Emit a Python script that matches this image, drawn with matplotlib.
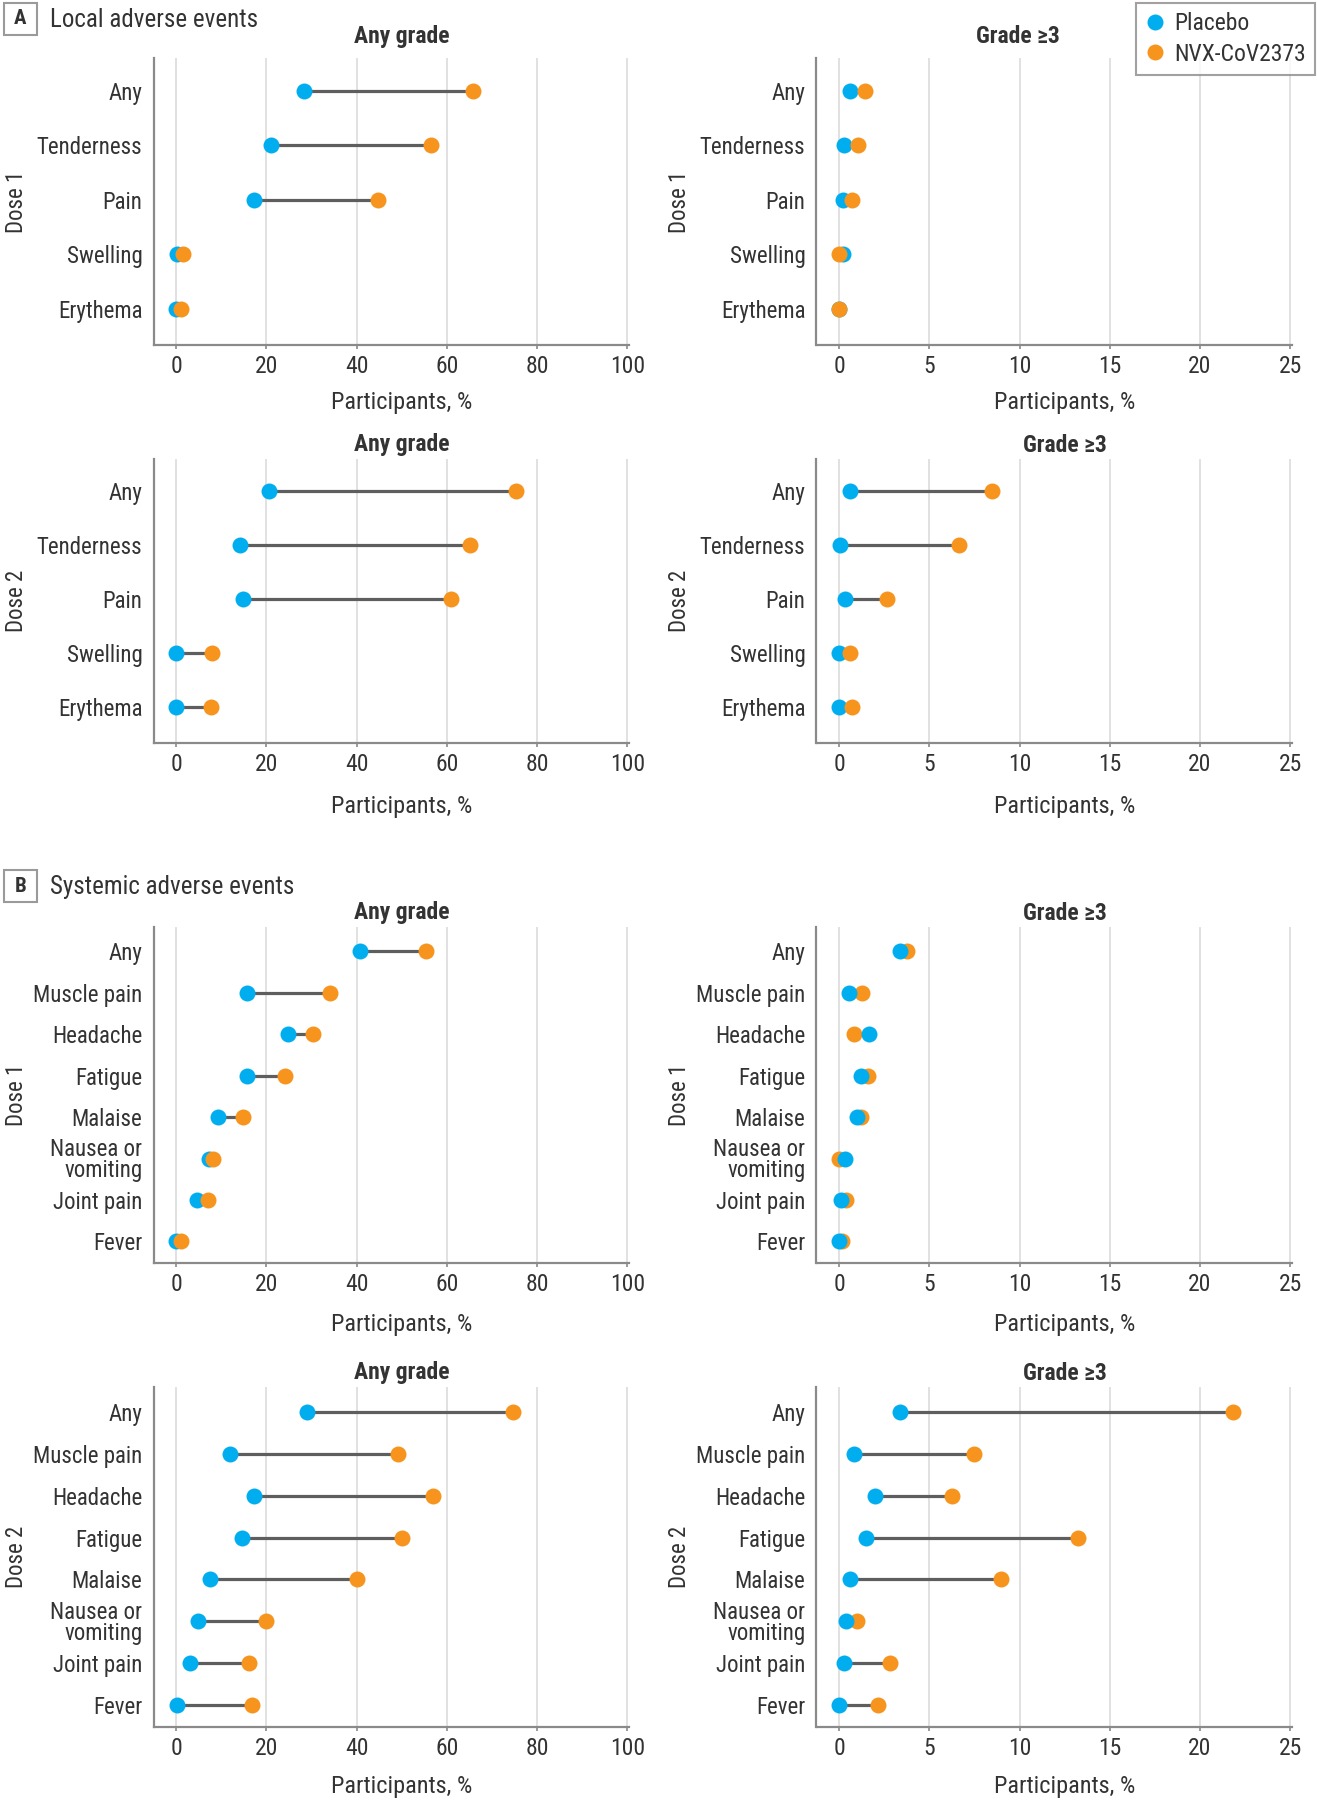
import matplotlib
matplotlib.use('Agg')
import matplotlib.pyplot as plt
from matplotlib.transforms import blended_transform_factory, offset_copy
from matplotlib.patches import Rectangle
from matplotlib.lines import Line2D

# ---- data (percent of participants) ----
local_items = ['Any', 'Tenderness', 'Pain', 'Swelling', 'Erythema']
systemic_items = ['Any', 'Muscle pain', 'Headache', 'Fatigue', 'Malaise',
                  'Nausea or\nvomiting', 'Joint pain', 'Fever']

local_d1_any_placebo = [28.4, 21.1, 17.3, 0.1, 0.0]
local_d1_any_nvx = [65.8, 56.5, 44.8, 1.6, 1.1]
local_d1_g3_placebo = [0.6, 0.25, 0.2, 0.2, 0.0]
local_d1_g3_nvx = [1.45, 1.05, 0.7, 0.0, 0.0]

local_d2_any_placebo = [20.6, 14.1, 14.8, 0.0, 0.0]
local_d2_any_nvx = [75.4, 65.1, 60.9, 8.0, 7.7]
local_d2_g3_placebo = [0.6, 0.05, 0.35, 0.0, 0.0]
local_d2_g3_nvx = [8.5, 6.65, 2.65, 0.6, 0.7]

sys_d1_any_placebo = [40.8, 15.7, 24.9, 15.7, 9.2, 7.2, 4.7, 0.0]
sys_d1_any_nvx = [55.3, 34.2, 30.4, 24.2, 14.8, 8.1, 7.1, 1.2]
sys_d1_g3_placebo = [3.4, 0.55, 1.65, 1.2, 1.0, 0.35, 0.1, 0.0]
sys_d1_g3_nvx = [3.75, 1.25, 0.85, 1.6, 1.2, 0.0, 0.4, 0.15]

sys_d2_any_placebo = [29.1, 12.0, 17.3, 14.7, 7.5, 4.9, 3.1, 0.2]
sys_d2_any_nvx = [74.6, 49.2, 57.0, 50.1, 40.1, 20.0, 16.2, 16.9]
sys_d2_g3_placebo = [3.4, 0.85, 2.0, 1.5, 0.6, 0.4, 0.25, 0.0]
sys_d2_g3_nvx = [21.85, 7.5, 6.25, 13.25, 9.0, 1.0, 2.85, 2.15]

any_ticks = [0, 20, 40, 60, 80, 100]
g3_ticks = [0, 5, 10, 15, 20, 25]

BLUE = '#00aeef'
ORANGE = '#f7941d'
LINE = '#5e5e5e'
GRID = '#dcdcdc'
SPINE = '#8a8a8a'
TEXT = '#333333'

W, H = 1317, 1800
plt.rcParams['font.family'] = ['Roboto Condensed', 'DejaVu Sans Condensed', 'Roboto', 'DejaVu Sans']
plt.rcParams['text.color'] = TEXT
fig = plt.figure(figsize=(W / 100, H / 100), dpi=100)

rows = [(58, 345), (459, 743), (927, 1263), (1387, 1727)]
cols = [(153.5, 629), (816.5, 1292)]
title_gap = [21, 14, 14, 14]
xlabel_gap = [58, 63, 61, 60]

panels = [
    # row, col, items, placebo, nvx, dose, placebo on top
    (0, 0, local_items, local_d1_any_placebo, local_d1_any_nvx, 'Dose 1', False),
    (0, 1, local_items, local_d1_g3_placebo, local_d1_g3_nvx, 'Dose 1', False),
    (1, 0, local_items, local_d2_any_placebo, local_d2_any_nvx, 'Dose 2', False),
    (1, 1, local_items, local_d2_g3_placebo, local_d2_g3_nvx, 'Dose 2', False),
    (2, 0, systemic_items, sys_d1_any_placebo, sys_d1_any_nvx, 'Dose 1', False),
    (2, 1, systemic_items, sys_d1_g3_placebo, sys_d1_g3_nvx, 'Dose 1', True),
    (3, 0, systemic_items, sys_d2_any_placebo, sys_d2_any_nvx, 'Dose 2', False),
    (3, 1, systemic_items, sys_d2_g3_placebo, sys_d2_g3_nvx, 'Dose 2', True),
]

for r, c, items, plc, nvx, dose, plc_top in panels:
    top, bottom = rows[r]
    left, right = cols[c]
    ax = fig.add_axes([left / W, 1 - bottom / H, (right - left) / W, (bottom - top) / H])
    ypos = list(range(len(items)))
    for y, a, b in zip(ypos, plc, nvx):
        ax.plot([a, b], [y, y], color=LINE, lw=2.3, zorder=2, solid_capstyle='butt')
    ax.plot(plc, ypos, 'o', color=BLUE, ms=11.5, mec='none', zorder=4 if plc_top else 3)
    ax.plot(nvx, ypos, 'o', color=ORANGE, ms=11.5, mec='none', zorder=3 if plc_top else 4)

    if c == 0:
        ax.set_xlim(-5, 100.4)
        ax.set_xticks(any_ticks)
        title, mid = 'Any grade', 50
    else:
        ax.set_xlim(-1.25, 25.1)
        ax.set_xticks(g3_ticks)
        title, mid = 'Grade \u22653', 12.5
        if r == 0:
            mid = 9.9
    n = len(items)
    if n == 5:
        ax.set_ylim(n - 1 + 0.67, -0.6)
    else:
        ax.set_ylim(n - 1 + 0.52, -0.59)
    ax.set_yticks(ypos)
    ax.set_yticklabels(items)
    for lab in ax.get_yticklabels():
        lab.set_linespacing(0.9)

    ax.grid(axis='x', color=GRID, lw=1.2, zorder=0)
    ax.set_axisbelow(True)
    for s in ['top', 'right']:
        ax.spines[s].set_visible(False)
    for s in ['left', 'bottom']:
        ax.spines[s].set_color(SPINE)
        ax.spines[s].set_linewidth(1.6)
    ax.tick_params(axis='x', length=3, width=1.2, color=SPINE, pad=4,
                   labelsize=17, labelcolor=TEXT)
    ax.tick_params(axis='y', length=0, pad=8, labelsize=16.5, labelcolor=TEXT)

    blend = blended_transform_factory(ax.transData, ax.transAxes)
    ax.text(mid, 1, title, transform=offset_copy(blend, fig=fig, y=title_gap[r], units='dots'),
            ha='center', va='center', fontsize=17, fontweight='bold')
    xmid = 50 if c == 0 else 12.5
    ax.text(xmid, 0, 'Participants, %',
            transform=offset_copy(blend, fig=fig, y=-xlabel_gap[r], units='dots'),
            ha='center', va='center', fontsize=17.5)
    fig.text((left - 137) / W, 1 - (top + bottom) / 2 / H, dose, rotation=90,
             ha='center', va='center', fontsize=16.5)

# panel headers
for letter, label, ytop in [('A', 'Local adverse events', 3), ('B', 'Systemic adverse events', 870)]:
    fig.patches.append(Rectangle((4 / W, 1 - (ytop + 32) / H), 33 / W, 32 / H,
                                 transform=fig.transFigure, facecolor='white',
                                 edgecolor='#9a9a9a', lw=1.5))
    fig.text(20.5 / W, 1 - (ytop + 16) / H, letter, ha='center', va='center',
             fontsize=15, fontweight='bold')
    fig.text(50 / W, 1 - (ytop + 17) / H, label, ha='left', va='center', fontsize=18)

# legend
handles = [Line2D([], [], ls='none', marker='o', ms=11.5, mec='none', color=BLUE),
           Line2D([], [], ls='none', marker='o', ms=11.5, mec='none', color=ORANGE)]
leg = fig.legend(handles, ['Placebo', 'NVX-CoV2373'], loc='upper right',
                 bbox_to_anchor=(1315 / W, 1 - 3 / H), fontsize=17, frameon=True,
                 fancybox=False, handlelength=0.8, handletextpad=0.4,
                 labelspacing=0.3, borderpad=0.4, borderaxespad=0)
leg.get_frame().set_edgecolor('#8a8a8a')
leg.get_frame().set_linewidth(1.5)
for t in leg.get_texts():
    t.set_color(TEXT)

fig.savefig('out.png', dpi=100, facecolor='white')
